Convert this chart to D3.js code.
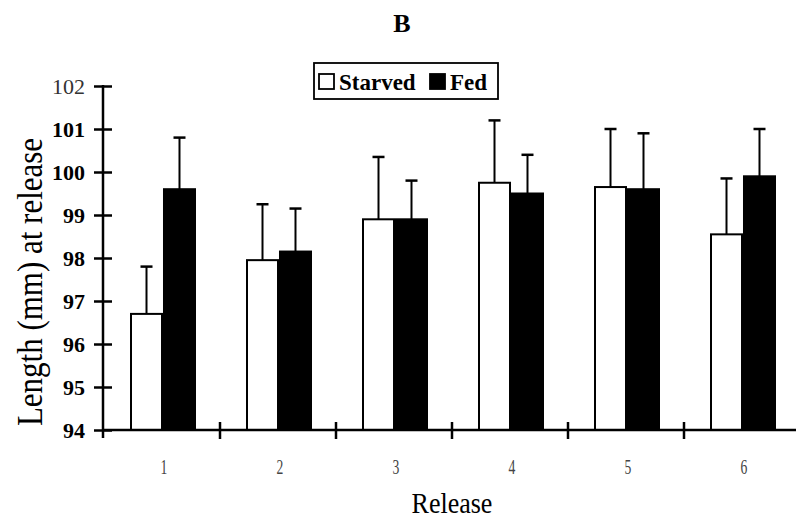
<!DOCTYPE html>
<html>
<head>
<meta charset="utf-8">
<script src="https://cdn.jsdelivr.net/npm/d3@7"></script>
<style>
  body { margin: 0; background: #fff; }
  svg { display: block; font-family: "Liberation Serif", "Times New Roman", serif; }
</style>
</head>
<body>
<svg id="chart" width="796" height="519"></svg>
<script>
// data
const releases = ['1', '2', '3', '4', '5', '6'];
const groups = ['Starved', 'Fed'];
const starvedMean = [96.7, 97.95, 98.9, 99.75, 99.65, 98.55];
const starvedErr = [1.1, 1.3, 1.45, 1.45, 1.35, 1.3];
const fedMean = [99.6, 98.15, 98.9, 99.5, 99.6, 99.9];
const fedErr = [1.2, 1.0, 0.9, 0.9, 1.3, 1.1];
const yTicks = [94, 95, 96, 97, 98, 99, 100, 101, 102];

const rows = releases.map((r, i) => ({
  release: r,
  values: [
    { group: 'Starved', mean: starvedMean[i], err: starvedErr[i] },
    { group: 'Fed', mean: fedMean[i], err: fedErr[i] },
  ],
}));

const svg = d3.select('#chart');
const fill = { Starved: '#fff', Fed: '#000' };

const x = d3.scaleBand().domain(releases).range([104, 800]).padding(0);
const groupW = 64;
const xSub = d3.scaleBand().domain(groups).range([0, groupW]).paddingInner(0.06);
const y = d3.scaleLinear().domain([94, 102]).range([430, 86]);

// ── bars ──
const g = svg.append('g');
const grp = g.selectAll('g.rel')
  .data(rows)
  .join('g')
  .attr('class', 'rel')
  .attr('transform', d => `translate(${x(d.release) + (x.bandwidth() - groupW) / 2 + 1},0)`);

grp.selectAll('rect')
  .data(d => d.values)
  .join('rect')
  .attr('x', d => xSub(d.group))
  .attr('y', d => y(d.mean))
  .attr('width', xSub.bandwidth())
  .attr('height', d => y(94) - y(d.mean))
  .attr('fill', d => fill[d.group])
  .attr('stroke', '#000')
  .attr('stroke-width', 2);

// error bars (upper only)
grp.selectAll('line.err')
  .data(d => d.values)
  .join('line')
  .attr('class', 'err')
  .attr('x1', d => xSub(d.group) + xSub.bandwidth() / 2)
  .attr('x2', d => xSub(d.group) + xSub.bandwidth() / 2)
  .attr('y1', d => y(d.mean))
  .attr('y2', d => y(d.mean + d.err))
  .attr('stroke', '#000').attr('stroke-width', 2);

grp.selectAll('line.cap')
  .data(d => d.values)
  .join('line')
  .attr('class', 'cap')
  .attr('x1', d => xSub(d.group) + xSub.bandwidth() / 2 - 6)
  .attr('x2', d => xSub(d.group) + xSub.bandwidth() / 2 + 6)
  .attr('y1', d => y(d.mean + d.err))
  .attr('y2', d => y(d.mean + d.err))
  .attr('stroke', '#000').attr('stroke-width', 2.5);

// ── y axis ──
const yAxis = svg.append('g')
  .attr('transform', 'translate(103,0)')
  .call(d3.axisLeft(y).tickValues(yTicks).tickSize(0).tickPadding(18).tickFormat(d3.format('d')));
yAxis.select('.domain').remove();
yAxis.append('line')
  .attr('x1', 0).attr('x2', 0)
  .attr('y1', y(102) - 1).attr('y2', y(94) + 8)
  .attr('stroke', '#000').attr('stroke-width', 2.5);
yAxis.selectAll('.tick').append('line')
  .attr('x1', -9).attr('x2', 9)
  .attr('stroke', '#000').attr('stroke-width', 2.5);
yAxis.selectAll('.tick text')
  .attr('font-size', 22)
  .attr('font-family', '"Liberation Serif", serif')
  .attr('fill', d => d === 102 ? '#333' : '#000')
  .attr('font-weight', d => d === 102 ? 'normal' : 'bold');

// ── x axis ──
const xAxis = svg.append('g')
  .attr('transform', `translate(0,${y(94)})`)
  .call(d3.axisBottom(x).tickSize(0).tickPadding(28));
xAxis.select('.domain').remove();
xAxis.append('line')
  .attr('x1', 103).attr('x2', 796)
  .attr('stroke', '#000').attr('stroke-width', 2.5);
xAxis.selectAll('.tick text')
  .attr('font-size', 22)
  .attr('font-family', '"Liberation Serif", serif')
  .attr('fill', '#444')
  .attr('transform', 'translate(2,0) scale(0.62,1)');

// separators between releases
xAxis.selectAll('line.sep')
  .data(releases.slice(0, -1))
  .join('line')
  .attr('class', 'sep')
  .attr('x1', d => x(d) + x.bandwidth())
  .attr('x2', d => x(d) + x.bandwidth())
  .attr('y1', -8).attr('y2', 9)
  .attr('stroke', '#000').attr('stroke-width', 2.5);

// ── titles ──
svg.append('text')
  .attr('x', 402).attr('y', 32)
  .attr('text-anchor', 'middle')
  .attr('font-size', 26).attr('font-weight', 'bold')
  .text('B');

svg.append('text')
  .attr('transform', 'translate(452,513) scale(1,1.15)')
  .attr('text-anchor', 'middle')
  .attr('font-size', 26)
  .text('Release');

svg.append('text')
  .attr('transform', 'translate(42,282) rotate(-90) scale(1,1.15)')
  .attr('text-anchor', 'middle')
  .attr('font-size', 31)
  .text('Length (mm) at release');

// ── legend ──
const leg = svg.append('g').attr('transform', 'translate(314,63)');
leg.append('rect')
  .attr('width', 184).attr('height', 36)
  .attr('fill', '#fff').attr('stroke', '#000').attr('stroke-width', 1.8);
const items = leg.selectAll('g.item')
  .data(groups)
  .join('g')
  .attr('class', 'item')
  .attr('transform', (d, i) => `translate(${i === 0 ? 5 : 116},11)`);
items.append('rect')
  .attr('width', 15).attr('height', 15)
  .attr('fill', d => fill[d])
  .attr('stroke', '#000').attr('stroke-width', 1.8);
items.append('text')
  .attr('x', 20).attr('y', 16)
  .attr('font-size', 23).attr('font-weight', 'bold')
  .text(d => d);
</script>
</body>
</html>
